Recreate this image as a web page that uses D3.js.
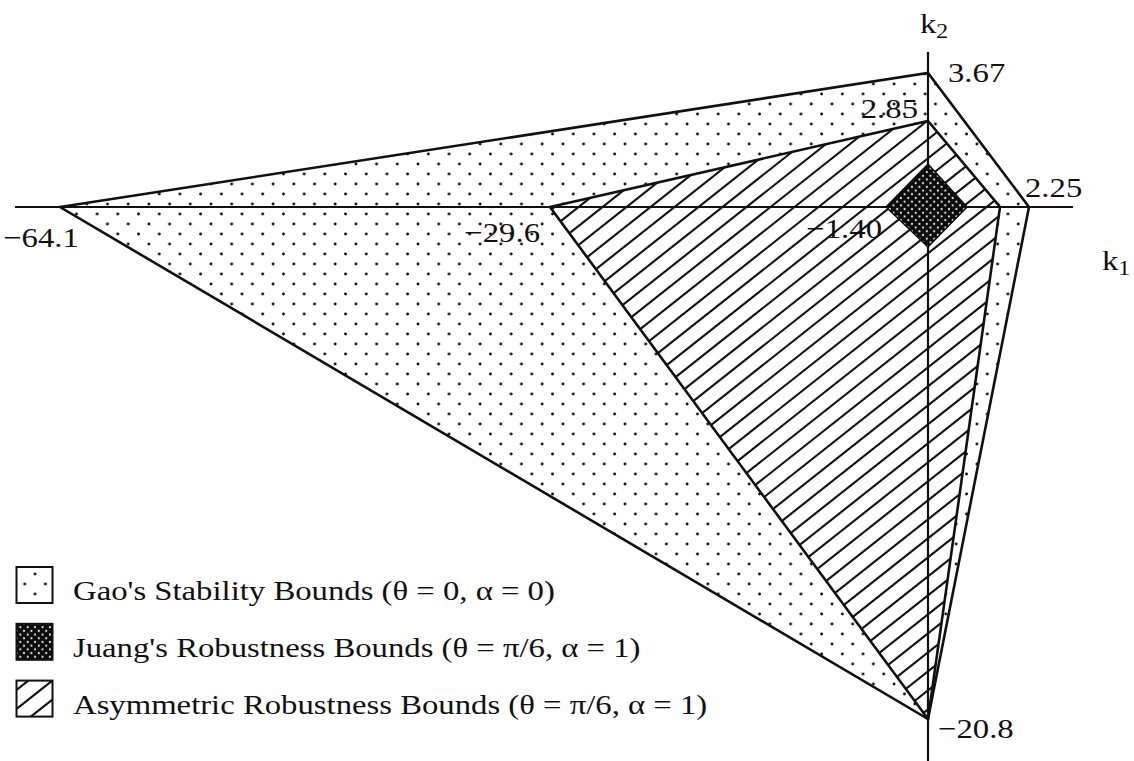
<!DOCTYPE html>
<html>
<head>
<meta charset="utf-8">
<script src="https://cdn.jsdelivr.net/npm/d3@7"></script>
<style>
  html, body { margin: 0; padding: 0; background: #fff; }
  svg { display: block; }
  text { font-family: "Liberation Serif", "Times New Roman", serif; fill: #111; }
</style>
</head>
<body>
<svg id="chart" width="1134" height="761"></svg>
<script>
// Stability / robustness regions in the (k1, k2) gain plane.
const k1Ticks = [-64.1, -29.6, -1.40, 0, 1.40, 1.90, 2.25];
const k2Ticks = [-20.8, -1.40, 0, 1.40, 2.85, 3.67];

// Region vertices, [k1, k2]
const gaoBounds   = [[-64.1, 0], [0, 3.67], [2.25, 0], [0, -20.8]];
const asymBounds  = [[-29.6, 0], [0, 2.85], [1.90, 0], [0, -20.8]];
const juangBounds = [[-1.40, 0], [0, 1.40], [1.40, 0], [0, -1.40]];

// Value labels placed at the region vertices
const vertexLabels = ["−64.1", "−29.6", "−1.40", "2.25", "3.67", "2.85", "−20.8"];
const vertexPoints = [[-64.1, 0], [-29.6, 0], [-1.40, 0], [2.25, 0], [0, 3.67], [0, 2.85], [0, -20.8]];

const legendLabels = [
  "Gao's Stability Bounds (θ = 0, α = 0)",
  "Juang's Robustness Bounds (θ = π/6, α = 1)",
  "Asymmetric Robustness Bounds (θ = π/6, α = 1)"
];

const svg = d3.select("#chart");
const FS = 27.5, SX = 1.19;

// Schematic (piecewise-linear) scales: not to scale between labelled values
const x = d3.scaleLinear().domain(k1Ticks).range([60, 550, 886, 928, 967, 1000, 1029]);
const y = d3.scaleLinear().domain(k2Ticks).range([719, 247, 207, 164, 121, 73]);

const defs = svg.append("defs");

// staggered dot screen
const dw = 20.7, dh = 20;
const dots = defs.append("pattern").attr("id", "dots")
  .attr("patternUnits", "userSpaceOnUse").attr("width", dw).attr("height", dh);
dots.append("rect").attr("width", dw).attr("height", dh).attr("fill", "#fff");
dots.append("circle").attr("cx", 4).attr("cy", 4).attr("r", 1.45).attr("fill", "#111");
dots.append("circle").attr("cx", 4 + dw / 2).attr("cy", 4 + dh / 2).attr("r", 1.45).attr("fill", "#111");

// dense screen: black with light dots
const dense = defs.append("pattern").attr("id", "dense")
  .attr("patternUnits", "userSpaceOnUse").attr("width", 7.4).attr("height", 7.4);
dense.append("rect").attr("width", 7.4).attr("height", 7.4).attr("fill", "#0b0b0b");
dense.append("circle").attr("cx", 1.8).attr("cy", 1.8).attr("r", 1.1).attr("fill", "#e0e0e0");
dense.append("circle").attr("cx", 5.5).attr("cy", 5.5).attr("r", 1.1).attr("fill", "#e0e0e0");

const line = d3.line().x(d => x(d[0])).y(d => y(d[1])).curve(d3.curveLinearClosed);

// Hatching "/" drawn as clipped strokes: lines x/hw + y/hh = n
const hw = 24, hh = 19;
function hatchInto(g, clipId, x0, y0, x1, y1) {
  const nMin = Math.floor(x0 / hw + y0 / hh) - 1;
  const nMax = Math.ceil(x1 / hw + y1 / hh) + 1;
  const body = g.append("g").attr("clip-path", `url(#${clipId})`);
  body.selectAll("line").data(d3.range(nMin, nMax + 1)).join("line")
    .attr("x1", n => (n - y1 / hh) * hw).attr("y1", y1)
    .attr("x2", n => (n - y0 / hh) * hw).attr("y2", y0)
    .attr("stroke", "#111").attr("stroke-width", 2.1);
}

// ---- regions ----
svg.append("path").datum(gaoBounds).attr("d", line)
  .attr("fill", "url(#dots)");

defs.append("clipPath").attr("id", "asymClip")
  .append("path").datum(asymBounds).attr("d", line);
const asymG = svg.append("g");
asymG.append("path").datum(asymBounds).attr("d", line).attr("fill", "#fff");
hatchInto(asymG, "asymClip", x(-29.6), y(2.85), x(1.90), y(-20.8));

svg.append("path").datum(gaoBounds).attr("d", line)
  .attr("fill", "none").attr("stroke", "#111").attr("stroke-width", 2.6);
svg.append("path").datum(asymBounds).attr("d", line)
  .attr("fill", "none").attr("stroke", "#111").attr("stroke-width", 2.6);

// ---- axes ----
svg.append("line").attr("x1", 15).attr("x2", 1073)
  .attr("y1", y(0)).attr("y2", y(0)).attr("stroke", "#111").attr("stroke-width", 2.2);
svg.append("line").attr("x1", x(0)).attr("x2", x(0))
  .attr("y1", 52).attr("y2", 761).attr("stroke", "#111").attr("stroke-width", 2.2);

svg.append("path").datum(juangBounds).attr("d", line)
  .attr("fill", "url(#dense)").attr("stroke", "#0b0b0b").attr("stroke-width", 1.5);

// ---- text helper (glyphs widened horizontally) ----
function label(parent, px, py, str, anchor, size) {
  return parent.append("text")
    .attr("transform", `translate(${px},${py}) scale(${SX},1)`)
    .attr("text-anchor", anchor || "start")
    .attr("font-size", size || FS)
    .text(str);
}

// vertex labels: [dx, dy, anchor]
const labelOffsets = [
  [-19, 40, "middle"],
  [-10, 35, "end"],
  [-4, 31, "end"],
  [-4, -10, "start"],
  [20, 9, "start"],
  [-10, -3, "end"],
  [10, 19, "start"]
];
vertexPoints.forEach((p, i) => {
  const o = labelOffsets[i];
  label(svg, x(p[0]) + o[0], y(p[1]) + o[1], vertexLabels[i], o[2]);
});

// axis names with subscripts
function axisName(px, py, sub) {
  const t = label(svg, px, py, "k", "start");
  t.append("tspan").attr("font-size", 20).attr("dy", 5).text(sub);
}
axisName(920, 33, "2");
axisName(1102, 270, "1");

// ---- legend ----
const legend = svg.append("g");
legendLabels.forEach((txt, i) => {
  const top = 567 + i * 56.8;
  const id = "legClip" + i;
  defs.append("clipPath").attr("id", id)
    .append("rect").attr("x", 16.5).attr("y", top).attr("width", 36).attr("height", 36);
  if (i === 2) {
    legend.append("rect").attr("x", 16.5).attr("y", top).attr("width", 36).attr("height", 36)
      .attr("fill", "#fff");
    hatchInto(legend, id, 16.5, top, 52.5, top + 36);
  }
  legend.append("rect").attr("x", 16.5).attr("y", top).attr("width", 36).attr("height", 36)
    .attr("fill", i === 0 ? "url(#dots)" : i === 1 ? "url(#dense)" : "none")
    .attr("stroke", "#111").attr("stroke-width", 2);
  label(legend, 73, top + 33, txt, "start");
});
</script>
</body>
</html>
